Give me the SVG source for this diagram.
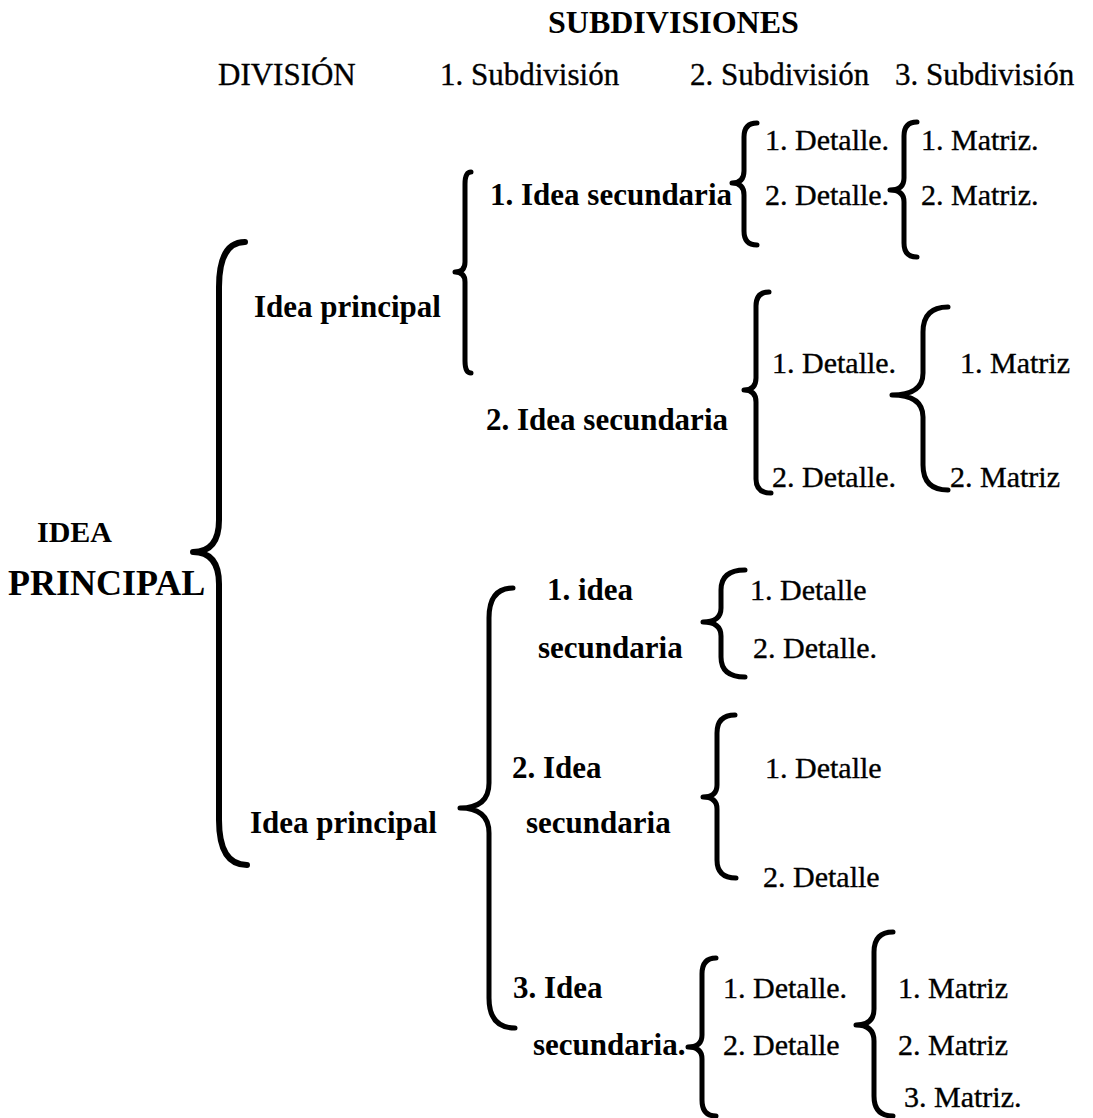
<svg xmlns="http://www.w3.org/2000/svg" width="1093" height="1118" viewBox="0 0 1093 1118">
<style>
text{font-family:"Liberation Serif","DejaVu Serif",serif;fill:#000}
.r{font-size:30px;stroke:#000;stroke-width:0.35}
.h{font-size:31px;stroke:#000;stroke-width:0.35}
.b{font-size:31px;font-weight:bold}
.br{fill:none;stroke:#000;stroke-width:5;stroke-linecap:round;stroke-linejoin:round}
</style>
<rect width="1093" height="1118" fill="#fff"/>
<g id="header">
<text class="b" x="548" y="33" style="font-size:32px">SUBDIVISIONES</text>
<text class="h" x="218" y="85">DIVISIÓN</text>
<text class="h" x="440" y="85">1. Subdivisión</text>
<text class="h" x="690" y="85">2. Subdivisión</text>
<text class="h" x="895" y="85">3. Subdivisión</text>
</g>
<g id="connectors">
<path class="br" style="stroke-width:6" d="M245,242 Q219,242 219,287 L219,520 Q219,552 193,552 Q219,552 219,584 L219,820 Q219,865 247,865"/>
<path class="br" d="M471,172 Q465,172 465,184 L465,262 Q465,272 455,272 Q465,272 465,282 L465,361 Q465,373 471,373"/>
<path class="br" d="M757,123 Q744,123 744,137 L744,171 Q744,183 732,183 Q744,183 744,195 L744,231 Q744,245 757,245"/>
<path class="br" d="M917,122 Q904,122 904,136 L904,178 Q904,190 890,190 Q904,190 904,202 L904,243 Q904,257 917,257"/>
<path class="br" d="M769,292 Q756,292 756,306 L756,378 Q756,390 744,390 Q756,390 756,402 L756,479 Q756,493 771,493"/>
<path class="br" d="M948,307 Q923,307 923,332 L923,373 Q923,395 892,395 Q923,395 923,417 L923,465 Q923,490 948,490"/>
<path class="br" d="M513,588 Q489,588 489,618 L489,783 Q489,808 460,808 Q489,808 489,833 L489,998 Q489,1028 515,1028"/>
<path class="br" d="M745,570 Q721,570 721,590 L721,608 Q721,622 703,622 Q721,622 721,636 L721,657 Q721,677 745,677"/>
<path class="br" d="M735,715 Q717,715 717,733 L717,785 Q717,797 703,797 Q717,797 717,809 L717,860 Q717,878 736,878"/>
<path class="br" d="M716,958 Q702,958 702,974 L702,1035 Q702,1047 688,1047 Q702,1047 702,1059 L702,1100 Q702,1116 716,1116"/>
<path class="br" d="M893,932 Q874,932 874,952 L874,1009 Q874,1025 856,1025 Q874,1025 874,1041 L874,1096 Q874,1116 893,1116"/>
</g>
<g id="idea-principal-root">
<text class="b" x="37" y="542" style="font-size:30px">IDEA</text>
<text class="b" x="8" y="595" style="font-size:36px">PRINCIPAL</text>
</g>
<g id="idea-principal-1"><text class="b" x="254" y="317">Idea principal</text></g>
<g id="idea-principal-2"><text class="b" x="250" y="833">Idea principal</text></g>
<g id="sec-1-1"><text class="b" x="490" y="205">1. Idea secundaria</text></g>
<g id="det-1-1-1"><text class="r" x="765" y="150">1. Detalle.</text></g>
<g id="det-1-1-2"><text class="r" x="765" y="205">2. Detalle.</text></g>
<g id="mat-1-1-1"><text class="r" x="921" y="150">1. Matriz.</text></g>
<g id="mat-1-1-2"><text class="r" x="921" y="205">2. Matriz.</text></g>
<g id="sec-1-2"><text class="b" x="486" y="430">2. Idea secundaria</text></g>
<g id="det-1-2-1"><text class="r" x="772" y="373">1. Detalle.</text></g>
<g id="det-1-2-2"><text class="r" x="772" y="487">2. Detalle.</text></g>
<g id="mat-1-2-1"><text class="r" x="960" y="373">1. Matriz</text></g>
<g id="mat-1-2-2"><text class="r" x="950" y="487">2. Matriz</text></g>
<g id="sec-2-1"><text class="b" x="547" y="600">1. idea</text><text class="b" x="538" y="658">secundaria</text></g>
<g id="det-2-1-1"><text class="r" x="750" y="600">1. Detalle</text></g>
<g id="det-2-1-2"><text class="r" x="753" y="658">2. Detalle.</text></g>
<g id="sec-2-2"><text class="b" x="512" y="778">2. Idea</text><text class="b" x="526" y="833">secundaria</text></g>
<g id="det-2-2-1"><text class="r" x="765" y="778">1. Detalle</text></g>
<g id="det-2-2-2"><text class="r" x="763" y="887">2. Detalle</text></g>
<g id="sec-2-3"><text class="b" x="513" y="998">3. Idea</text><text class="b" x="533" y="1055">secundaria.</text></g>
<g id="det-2-3-1"><text class="r" x="723" y="998">1. Detalle.</text></g>
<g id="det-2-3-2"><text class="r" x="723" y="1055">2. Detalle</text></g>
<g id="mat-2-3-1"><text class="r" x="898" y="998">1. Matriz</text></g>
<g id="mat-2-3-2"><text class="r" x="898" y="1055">2. Matriz</text></g>
<g id="mat-2-3-3"><text class="r" x="904" y="1107">3. Matriz.</text></g>
</svg>
